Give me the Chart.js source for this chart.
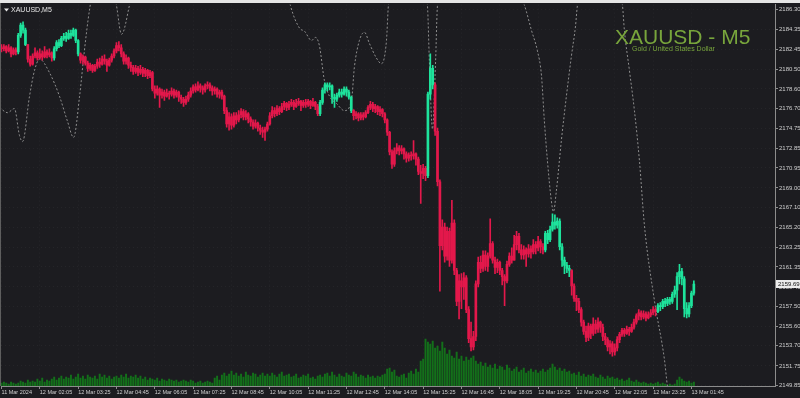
<!DOCTYPE html>
<html>
<head>
<meta charset="utf-8">
<script src="https://cdn.jsdelivr.net/npm/chart.js@4.4.1/dist/chart.umd.min.js"></script>
<style>
    html, body { margin: 0; padding: 0; background: #1c1c20; }
    #wrap { width: 800px; height: 398px; position: relative; }
</style>
</head>
<body>
<div id="wrap"><canvas id="chart" width="800" height="398"></canvas></div>
<script>
/* XAUUSD M5 - candles, tick volume and a dotted indicator */

const firstOpen = 2182.6;

const closes = [
    2182.5, 2182.7, 2182.3, 2182.6, 2182.0, 2182.4, 2182.2, 2183.8, 2184.8, 2184.3,
    2182.9, 2181.5, 2181.0, 2181.8, 2182.1, 2181.6, 2182.0, 2181.7, 2182.2, 2181.9,
    2182.1, 2181.6, 2182.5, 2183.1, 2182.8, 2183.5, 2183.7, 2183.5, 2184.0, 2183.8,
    2184.3, 2183.3, 2182.0, 2181.4, 2181.7, 2181.1, 2180.6, 2180.9, 2180.4, 2180.8,
    2181.2, 2181.0, 2181.5, 2181.3, 2180.9, 2181.4, 2181.8, 2182.3, 2182.8, 2182.6,
    2182.0, 2181.3, 2181.6, 2180.9, 2180.7, 2180.3, 2180.6, 2180.2, 2180.5, 2180.1,
    2180.4, 2179.9, 2180.2, 2178.6, 2178.2, 2178.6, 2178.0, 2178.3, 2177.9, 2178.2,
    2178.1, 2178.4, 2178.0, 2178.3, 2177.8, 2177.6, 2177.3, 2177.6, 2178.0, 2178.4,
    2178.8, 2178.5, 2178.9, 2178.7, 2178.5, 2178.9, 2179.0, 2178.7, 2178.4, 2178.6,
    2178.1, 2178.3, 2177.9, 2176.5, 2175.2, 2175.9, 2175.1, 2176.0, 2175.6, 2176.1,
    2176.4, 2175.9, 2176.2, 2175.7, 2175.4, 2175.0, 2175.3, 2174.8, 2174.6, 2174.4,
    2174.7, 2175.2, 2176.0, 2176.5, 2176.2, 2176.7, 2176.4, 2176.9, 2177.2, 2176.8,
    2177.1, 2177.3, 2176.9, 2177.2, 2177.4, 2177.0, 2177.3, 2177.1, 2177.4, 2177.0,
    2177.3, 2176.9, 2176.2, 2177.3, 2178.5, 2179.0, 2178.8, 2178.9, 2177.8, 2177.6,
    2178.0, 2178.3, 2178.1, 2178.6, 2178.3, 2177.8, 2176.5, 2176.0, 2176.2, 2175.8,
    2176.1, 2175.9, 2176.3, 2176.8, 2177.1, 2176.7, 2176.9, 2176.4, 2176.6, 2176.2,
    2175.6, 2174.4, 2172.5, 2171.3, 2172.6, 2172.9, 2172.6, 2172.8, 2172.3, 2171.9,
    2172.2, 2172.1, 2172.3, 2171.8, 2170.6, 2170.4, 2170.9, 2170.2, 2178.1, 2180.6,
    2179.0, 2174.5, 2169.6, 2163.4, 2165.2, 2162.4, 2164.8, 2162.0, 2165.6, 2161.0,
    2158.0, 2160.0, 2159.4, 2160.3, 2157.2, 2154.4, 2153.6, 2154.6, 2159.7, 2161.8,
    2161.2, 2162.5, 2161.4, 2162.4, 2163.6, 2162.0, 2161.3, 2161.8, 2161.0, 2160.4,
    2160.0, 2161.6, 2162.4, 2162.0, 2163.5, 2164.3, 2163.0, 2162.5, 2163.0, 2162.6,
    2163.1, 2162.8, 2163.5, 2163.2, 2163.8, 2163.3, 2163.0, 2164.6, 2164.0, 2165.0,
    2165.7, 2165.4, 2165.8, 2163.3, 2162.0, 2161.5, 2161.2, 2161.0, 2159.5, 2158.3,
    2158.0, 2157.2, 2156.0, 2155.1, 2154.5, 2155.6, 2154.9, 2155.8, 2155.3, 2156.0,
    2155.5, 2154.6, 2154.3, 2153.6, 2153.9, 2153.1, 2153.5, 2154.3, 2154.8, 2155.2,
    2154.9, 2155.3, 2155.1, 2155.5, 2156.0, 2156.6, 2156.9, 2156.5, 2156.8, 2156.4,
    2156.7, 2156.9, 2157.2, 2157.0, 2157.6, 2157.5, 2158.0, 2157.8, 2158.2, 2158.0,
    2158.7, 2159.1, 2160.4, 2160.9, 2160.2, 2157.3, 2156.8, 2157.6, 2158.8, 2159.69
];

const highs = [
    2182.9, 2182.9, 2182.8, 2182.9, 2182.7, 2182.6, 2182.6, 2184.0, 2185.0, 2185.1,
    2184.5, 2182.9, 2181.8, 2182.0, 2182.6, 2182.3, 2182.5, 2182.3, 2182.7, 2182.4,
    2182.5, 2182.2, 2182.7, 2183.3, 2183.4, 2183.7, 2184.0, 2184.1, 2184.3, 2184.3,
    2184.5, 2184.4, 2183.4, 2182.1, 2181.9, 2181.8, 2181.3, 2181.1, 2181.0, 2181.0,
    2181.5, 2181.6, 2181.8, 2181.9, 2181.5, 2181.6, 2182.0, 2182.5, 2183.1, 2183.2,
    2182.9, 2182.2, 2181.9, 2181.7, 2181.2, 2180.9, 2180.9, 2180.8, 2180.9, 2180.7,
    2180.6, 2180.5, 2180.4, 2180.3, 2178.9, 2178.9, 2178.7, 2178.6, 2178.5, 2178.6,
    2178.4, 2178.7, 2178.6, 2178.5, 2178.4, 2178.0, 2177.8, 2177.9, 2178.3, 2178.7,
    2179.0, 2179.1, 2179.3, 2179.1, 2178.9, 2179.1, 2179.3, 2179.2, 2178.9, 2178.8,
    2178.7, 2178.5, 2178.5, 2178.0, 2176.8, 2176.3, 2176.2, 2176.3, 2176.3, 2176.5,
    2176.7, 2176.6, 2176.5, 2176.3, 2175.9, 2175.6, 2175.6, 2175.4, 2175.1, 2174.9,
    2174.9, 2175.4, 2176.3, 2176.9, 2176.8, 2177.0, 2176.9, 2177.2, 2177.4, 2177.3,
    2177.4, 2177.6, 2177.5, 2177.6, 2177.7, 2177.5, 2177.5, 2177.6, 2177.6, 2177.5,
    2177.7, 2177.4, 2177.1, 2177.5, 2178.7, 2179.2, 2179.2, 2179.2, 2179.0, 2178.1,
    2178.2, 2178.6, 2178.6, 2178.8, 2178.8, 2178.5, 2177.9, 2176.6, 2176.4, 2176.3,
    2176.3, 2176.3, 2176.5, 2177.0, 2177.4, 2177.3, 2177.1, 2177.0, 2176.9, 2176.7,
    2176.3, 2175.7, 2174.5, 2172.7, 2172.9, 2173.3, 2173.1, 2173.1, 2172.9, 2172.5,
    2172.4, 2172.5, 2173.6, 2172.4, 2172.0, 2171.2, 2171.3, 2171.1, 2178.3, 2182.0,
    2180.9, 2179.2, 2174.8, 2169.8, 2165.9, 2165.6, 2165.2, 2165.1, 2167.8, 2165.9,
    2161.2, 2160.6, 2160.7, 2160.8, 2160.5, 2157.5, 2156.0, 2155.1, 2160.0, 2162.3,
    2162.4, 2162.9, 2162.9, 2162.7, 2166.0, 2163.8, 2162.3, 2162.1, 2161.9, 2161.2,
    2160.6, 2161.9, 2162.7, 2163.2, 2164.4, 2164.8, 2164.6, 2163.5, 2163.4, 2163.2,
    2163.5, 2163.4, 2164.0, 2163.8, 2164.3, 2164.0, 2163.6, 2164.8, 2164.9, 2165.3,
    2166.5, 2166.4, 2166.1, 2166.0, 2163.6, 2162.3, 2161.8, 2161.5, 2161.1, 2159.7,
    2158.6, 2158.3, 2157.4, 2156.2, 2155.6, 2155.9, 2155.8, 2156.4, 2156.2, 2156.4,
    2156.1, 2155.8, 2154.9, 2154.5, 2154.2, 2154.1, 2153.9, 2154.6, 2155.0, 2155.4,
    2155.4, 2155.6, 2155.5, 2155.8, 2156.3, 2156.8, 2157.2, 2157.1, 2157.1, 2157.0,
    2157.0, 2157.2, 2157.5, 2157.4, 2157.8, 2157.9, 2158.2, 2158.3, 2158.4, 2158.4,
    2158.9, 2159.5, 2160.8, 2161.6, 2161.2, 2160.4, 2157.9, 2157.9, 2159.0, 2160.0
];

const lows = [
    2182.2, 2182.3, 2182.1, 2182.2, 2181.7, 2181.9, 2181.9, 2182.0, 2183.6, 2184.0,
    2182.8, 2181.2, 2180.8, 2180.9, 2181.6, 2181.4, 2181.5, 2181.4, 2181.6, 2181.6,
    2181.7, 2181.3, 2181.4, 2182.3, 2182.6, 2182.7, 2183.3, 2183.2, 2183.4, 2183.5,
    2183.7, 2183.1, 2181.8, 2181.1, 2181.0, 2180.9, 2180.3, 2180.4, 2180.2, 2180.3,
    2180.6, 2180.7, 2180.9, 2181.0, 2180.3, 2180.8, 2181.2, 2181.6, 2182.1, 2182.3,
    2181.7, 2181.0, 2181.0, 2180.6, 2180.3, 2180.0, 2180.1, 2179.9, 2180.0, 2179.8,
    2179.8, 2179.6, 2179.7, 2178.4, 2177.7, 2178.0, 2176.8, 2177.7, 2177.5, 2177.8,
    2177.6, 2177.9, 2177.7, 2177.8, 2177.4, 2177.2, 2176.9, 2177.1, 2177.4, 2177.8,
    2178.2, 2178.3, 2178.4, 2178.3, 2178.1, 2178.3, 2178.6, 2178.4, 2178.0, 2178.1,
    2177.8, 2177.7, 2177.6, 2176.2, 2174.9, 2174.6, 2174.7, 2174.9, 2175.2, 2175.4,
    2175.8, 2175.6, 2175.6, 2175.3, 2175.0, 2174.7, 2174.8, 2174.5, 2174.2, 2173.9,
    2173.6, 2174.5, 2175.1, 2175.8, 2175.9, 2176.0, 2176.1, 2176.3, 2176.6, 2176.5,
    2176.6, 2176.9, 2176.6, 2176.8, 2177.0, 2176.5, 2176.8, 2176.8, 2176.9, 2176.7,
    2176.9, 2176.6, 2176.0, 2176.0, 2177.1, 2178.2, 2178.4, 2178.5, 2177.2, 2176.8,
    2177.4, 2177.8, 2177.8, 2178.0, 2177.9, 2177.6, 2176.3, 2175.6, 2175.7, 2175.5,
    2175.6, 2175.6, 2175.8, 2176.2, 2176.6, 2176.4, 2176.3, 2176.1, 2176.0, 2175.9,
    2175.3, 2174.1, 2172.2, 2170.9, 2171.1, 2172.3, 2172.2, 2172.3, 2171.8, 2171.5,
    2171.6, 2171.7, 2171.8, 2171.2, 2170.3, 2167.5, 2169.9, 2169.7, 2170.0, 2177.6,
    2178.6, 2174.1, 2169.2, 2159.0, 2163.0, 2161.8, 2162.0, 2161.4, 2161.7, 2160.6,
    2157.6, 2156.3, 2157.3, 2158.2, 2156.9, 2154.0, 2153.2, 2153.3, 2154.2, 2159.4,
    2160.8, 2160.9, 2161.0, 2160.9, 2162.2, 2161.7, 2160.7, 2160.8, 2160.6, 2159.6,
    2157.6, 2159.8, 2161.4, 2161.7, 2162.0, 2163.0, 2162.7, 2162.1, 2162.1, 2161.4,
    2162.3, 2162.2, 2162.6, 2162.6, 2162.9, 2162.7, 2162.6, 2162.8, 2163.6, 2163.8,
    2164.8, 2165.0, 2165.1, 2163.0, 2161.4, 2160.7, 2160.8, 2160.4, 2158.6, 2158.0,
    2157.1, 2156.9, 2155.6, 2154.8, 2154.1, 2154.2, 2154.4, 2154.7, 2154.9, 2155.0,
    2155.0, 2154.2, 2153.8, 2153.2, 2152.9, 2152.7, 2152.8, 2153.2, 2154.0, 2154.6,
    2154.6, 2154.8, 2154.7, 2155.0, 2155.3, 2155.8, 2156.2, 2156.2, 2156.3, 2156.1,
    2156.3, 2156.5, 2156.7, 2156.6, 2156.9, 2157.1, 2157.3, 2157.5, 2157.6, 2157.7,
    2157.8, 2158.4, 2157.2, 2159.7, 2159.6, 2156.5, 2156.4, 2156.5, 2157.4, 2158.6
];

// tick volume (same scale as the picture: one unit per pixel of bar height)
const volumes = [
    3, 4, 3, 2, 4, 3, 2, 3, 5, 4, 3, 6, 4,
    5, 4, 7, 5, 8, 4, 6, 5, 7, 9, 6, 8, 10,
    7, 9, 8, 11, 7, 9, 12, 8, 10, 7, 11, 9, 8, 10, 7,
    12, 9, 11, 8, 10, 7, 9, 10, 8, 11, 9, 12, 8, 10, 9,
    11, 8, 10, 7, 9, 6, 8, 7, 6, 8, 5, 7, 6, 5, 7,
    6, 5, 6, 4, 5, 6, 5, 4, 6, 5, 3, 4, 5, 3, 4,
    5, 4, 3, 8, 10, 6, 11, 13, 10, 12,
    15, 11, 13, 10, 12, 9, 14, 11, 10, 13, 12, 9, 11, 13, 10,
    12, 10, 13, 11, 9, 12, 14, 10, 11, 12, 9, 10, 12, 8, 9,
    11, 10, 12, 8, 9, 7, 10, 11, 9, 12, 13, 10, 14, 11, 9,
    12, 10, 9, 13, 11, 10, 14, 12, 9, 11, 10, 8, 11, 9, 10,
    8, 10, 9, 11, 12, 17, 18, 14, 16, 10,
    9, 11, 12, 8, 13, 15, 12, 17, 14, 25,
    27, 47, 44, 42, 45, 38, 40, 35, 44, 38,
    32, 36, 30, 28, 34, 27, 30, 25, 29, 26,
    28, 30, 25, 22, 24, 20, 23, 19, 21, 18,
    22, 17, 20, 19, 16, 21, 18, 15, 17, 19,
    14, 16, 18, 13, 15, 17, 14, 16, 13, 15,
    17, 14, 16, 18, 22, 19, 16, 18, 15, 17,
    14, 15, 12, 13, 11, 14, 10, 12, 9, 11,
    10, 12, 9, 8, 11, 9, 7, 10, 8, 9,
    7, 8, 6, 7, 5, 6, 8, 5, 4, 6,
    4, 3, 4, 3, 2, 3, 2, 3, 4, 2,
    3, 2, 1, 2, 1, 2, 6, 9, 7, 5,
    4, 5, 3, 4
];

// bar index ranges painted in the "up trend" colour
const greenRanges = [[7, 10], [22, 32], [133, 146], [178, 180], [227, 237], [274, 289]];

// dotted indicator, sampled where it turns (bar index / price)
const indIdx = [
    -0.8, 2.5, 5.4, 7.5, 8.8, 11.7, 13.8, 15.9, 20.0, 24.2, 27.5, 30.1, 32.6, 34.6, 36.7,
    42.6, 48.0, 50.1, 53.4, 57.6, 86.8, 116.0, 120.6, 124.4, 126.5, 129.4, 131.1, 132.7,
    134.8, 136.9, 139.8, 143.2, 146.1, 147.3, 149.4, 151.5, 153.6, 156.5, 158.6, 160.7,
    161.5, 169.5, 177.8, 178.6, 179.9, 181.2, 182.0, 199.5, 218.3, 221.2, 223.7, 225.4,
    226.6, 227.9, 229.5, 230.4, 231.6, 233.7, 235.8, 237.9, 239.6, 240.4, 249.6, 259.2,
    260.0, 262.1, 264.2, 266.3, 268.4, 272.6, 276.7, 278.0, 283.0, 291.3
];
const indPrice = [
    2176.8, 2176.3, 2176.7, 2174.1, 2173.5, 2177.9, 2180.4, 2181.5, 2180.2, 2177.9, 2175.5, 2173.9, 2177.9, 2182.3, 2186.2,
    2193.0, 2186.7, 2183.9, 2186.7, 2192.0, 2194.9, 2192.0, 2186.7, 2184.5, 2184.2, 2183.3, 2183.6, 2182.8,
    2179.4, 2177.9, 2177.2, 2176.5, 2177.5, 2180.7, 2183.3, 2184.1, 2183.0, 2181.6, 2181.05, 2183.3,
    2186.7, 2194.9, 2186.7, 2181.3, 2174.7, 2181.3, 2186.7, 2195.9, 2186.7, 2184.3, 2182.3, 2179.9,
    2175.5, 2171.6, 2167.8, 2166.7, 2168.7, 2173.6, 2177.9, 2181.8, 2184.7, 2186.7, 2193.0, 2186.7,
    2184.3, 2180.4, 2176.5, 2171.6, 2165.3, 2158.0, 2152.4, 2149.7, 2142.5, 2136.7
];

const yTicks = [
    2186.30, 2184.35, 2182.45, 2180.50, 2178.60, 2176.70, 2174.75, 2172.85, 2170.95, 2169.00,
    2167.10, 2165.20, 2163.25, 2161.35, 2159.40, 2157.50, 2155.60, 2153.70, 2151.75, 2149.85
];

const xTickLabels = [
    '11 Mar 2024', '12 Mar 02:05', '12 Mar 03:25', '12 Mar 04:45', '12 Mar 06:05',
    '12 Mar 07:25', '12 Mar 08:45', '12 Mar 10:05', '12 Mar 11:25', '12 Mar 12:45',
    '12 Mar 14:05', '12 Mar 15:25', '12 Mar 16:45', '12 Mar 18:05', '12 Mar 19:25',
    '12 Mar 20:45', '12 Mar 22:05', '12 Mar 23:25', '13 Mar 01:45'
];
const barsPerLabel = 16;
const lastPrice = 2159.69;

// visible price window and bar window of the terminal
const yMin = 2149.80, yMax = 2186.78;
const xMin = -0.2, xMax = 322.87;

const BG = '#1c1c20';
const GREEN = '#1ee39c';
const RED = '#e3184b';
const VOL = '#13701a';
const AXIS = '#8c8c8c';
const TEXT = '#cfcfcf';
const FONT = "'Liberation Sans Narrow', 'Liberation Sans', Arial, sans-serif";

const opens = closes.map((c, i) => i === 0 ? firstOpen : closes[i - 1]);
const isGreen = i => greenRanges.some(([a, b]) => i >= a && i <= b);
const candleColor = ctx => isGreen(ctx.dataIndex) ? GREEN : RED;

const terminalPlugin = {
    id: 'terminal',
    beforeDraw(chart) {
        const { ctx, width, height } = chart;
        ctx.save();
        ctx.fillStyle = BG;
        ctx.fillRect(0, 0, width, height);
        ctx.fillStyle = '#e6e6e6';
        ctx.fillRect(0, 0, width, 3);
        ctx.strokeStyle = '#5e5e5e';
        ctx.beginPath();
        ctx.moveTo(0.5, 3);
        ctx.lineTo(0.5, chart.chartArea.bottom);
        ctx.stroke();
        ctx.restore();
    },
    afterDraw(chart) {
        const { ctx } = chart;
        ctx.save();
        // symbol header
        ctx.fillStyle = '#e8e8e8';
        ctx.beginPath();
        ctx.moveTo(4, 8.5); ctx.lineTo(9, 8.5); ctx.lineTo(6.5, 11.5);
        ctx.closePath();
        ctx.fill();
        ctx.font = `7px ${FONT}`;
        ctx.textBaseline = 'middle';
        ctx.fillText('XAUUSD,M5', 11, 10);

        // big symbol label
        ctx.fillStyle = '#78a53c';
        ctx.textBaseline = 'alphabetic';
        ctx.font = "21px 'Liberation Sans', Arial, sans-serif";
        ctx.fillText('XAUUSD - M5', 615, 44);
        ctx.font = "7px 'Liberation Sans', Arial, sans-serif";
        ctx.fillText('Gold / United States Dollar', 632, 51);

        // current bid label
        const y = chart.scales.y.getPixelForValue(lastPrice);
        ctx.fillStyle = '#ececec';
        ctx.fillRect(776, Math.round(y) - 4, 24, 8);
        ctx.fillStyle = '#111';
        ctx.font = `6px ${FONT}`;
        ctx.textBaseline = 'middle';
        ctx.fillText(lastPrice.toFixed(2), 778, Math.round(y));
        ctx.restore();
    }
};

new Chart(document.getElementById('chart'), {
    type: 'bar',
    data: {
        datasets: [
            {
                label: 'Body',
                data: closes.map((c, i) => ({ x: i, y: [opens[i], c] })),
                backgroundColor: candleColor,
                barThickness: 2,
                minBarLength: 1,
                grouped: false,
                order: 0
            },
            {
                label: 'Wick',
                data: closes.map((c, i) => ({
                    x: i,
                    y: [Math.min(lows[i], opens[i], c), Math.max(highs[i], opens[i], c)]
                })),
                backgroundColor: candleColor,
                barThickness: 1,
                grouped: false,
                order: 1
            },
            {
                type: 'line',
                label: 'Indicator',
                data: indIdx.map((x, k) => ({ x, y: indPrice[k] })),
                borderColor: '#8f8f8f',
                borderWidth: 1,
                borderDash: [2, 2],
                pointRadius: 0,
                cubicInterpolationMode: 'monotone',
                order: 2
            },
            {
                label: 'Volume',
                data: volumes.map((v, i) => ({ x: i, y: v })),
                yAxisID: 'v',
                backgroundColor: VOL,
                barThickness: 1.3,
                grouped: false,
                order: 3
            }
        ]
    },
    options: {
        responsive: false,
        animation: false,
        layout: { padding: { top: 4, left: 1, right: 0, bottom: 0 }, autoPadding: false },
        plugins: { legend: { display: false }, tooltip: { enabled: false } },
        scales: {
            x: {
                type: 'linear',
                min: xMin,
                max: xMax,
                offset: false,
                grid: { color: 'rgba(255,255,255,0.045)', tickColor: AXIS, tickLength: 3, offset: false },
                border: { display: true, color: AXIS, dash: [1, 3] },
                ticks: {
                    color: TEXT,
                    font: { family: FONT, size: 5.5 },
                    align: 'start',
                    maxRotation: 0,
                    autoSkip: false,
                    padding: 0,
                    callback: (v, i) => xTickLabels[i]
                },
                afterBuildTicks: s => { s.ticks = xTickLabels.map((_, k) => ({ value: k * barsPerLabel })); },
                afterFit: s => { s.height = 12; }
            },
            y: {
                type: 'linear',
                position: 'right',
                min: yMin,
                max: yMax,
                grid: { color: 'rgba(255,255,255,0.045)', tickColor: AXIS, tickLength: 3 },
                border: { display: true, color: AXIS, dash: [1, 3] },
                ticks: {
                    color: TEXT,
                    font: { family: FONT, size: 6 },
                    padding: 1,
                    callback: v => Number(v).toFixed(2)
                },
                afterBuildTicks: s => { s.ticks = yTicks.map(v => ({ value: v })); },
                afterFit: s => { s.width = 25; }
            },
            v: { type: 'linear', display: false, min: 0, max: 382 }
        }
    },
    plugins: [terminalPlugin]
});
</script>
</body>
</html>
